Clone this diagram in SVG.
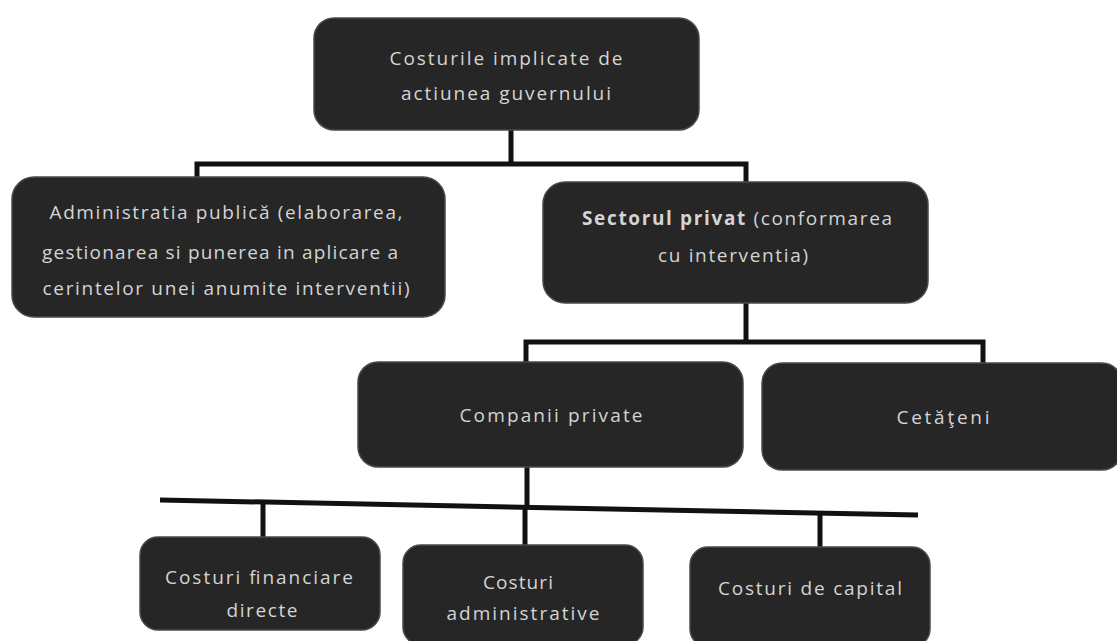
<svg xmlns="http://www.w3.org/2000/svg" width="1117" height="641" viewBox="0 0 1117 641">
<style>
.box{fill:#262626;stroke:#4a4a4a;stroke-width:1.5}
.t{font-family:"Open Sans","Liberation Sans",sans-serif;font-size:19px;fill:#d4d4d4;text-anchor:middle;dominant-baseline:central}
.b{font-weight:bold}
.c{fill:none;stroke:#111;stroke-width:5}
</style>
<rect width="1117" height="641" fill="#ffffff"/>
<g id="connectors">
<path class="c" d="M511 130 V164 M197 177 V164 H746 V182"/>
<path class="c" d="M746 303 V342 M526 362 V342 H983 V363"/>
<path class="c" d="M527 467 V507"/>
<path class="c" d="M160 500 L918 515"/>
<path class="c" d="M263 502 V537 M525 507 V545 M820 513 V547"/>
</g>
<g id="n-top">
<rect class="box" x="314" y="18" width="385" height="112" rx="20"/>
<text class="t" x="506" y="58" textLength="233" lengthAdjust="spacing">Costurile implicate de</text>
<text class="t" x="506" y="93" textLength="210" lengthAdjust="spacing">actiunea guvernului</text>
</g>
<g id="n-admin">
<rect class="box" x="12" y="177" width="433" height="140" rx="22"/>
<text class="t" x="226" y="212" textLength="353" lengthAdjust="spacing">Administratia publică (elaborarea,</text>
<text class="t" x="220" y="252" textLength="356" lengthAdjust="spacing">gestionarea si punerea in aplicare a</text>
<text class="t" x="226" y="288" textLength="367" lengthAdjust="spacing">cerintelor unei anumite interventii)</text>
</g>
<g id="n-privat">
<rect class="box" x="543" y="182" width="385" height="121" rx="22"/>
<text class="t" x="737" y="218" textLength="310" lengthAdjust="spacing"><tspan class="b">Sectorul privat</tspan> (conformarea</text>
<text class="t" x="733" y="255" textLength="150" lengthAdjust="spacing">cu interventia)</text>
</g>
<g id="n-companii">
<rect class="box" x="358" y="362" width="385" height="105" rx="20"/>
<text class="t" x="551" y="415" textLength="183" lengthAdjust="spacing">Companii private</text>
</g>
<g id="n-cetateni">
<rect class="box" x="762" y="363" width="360" height="107" rx="20"/>
<text class="t" x="943" y="417" textLength="93" lengthAdjust="spacing">Cetăţeni</text>
</g>
<g id="n-financiare">
<rect class="box" x="140" y="537" width="240" height="93" rx="18"/>
<text class="t" x="259" y="577" textLength="188" lengthAdjust="spacing">Costuri financiare</text>
<text class="t" x="262" y="610" textLength="71" lengthAdjust="spacing">directe</text>
</g>
<g id="n-administrative">
<rect class="box" x="403" y="545" width="240" height="100" rx="18"/>
<text class="t" x="518" y="582" textLength="70" lengthAdjust="spacing">Costuri</text>
<text class="t" x="523" y="613" textLength="153" lengthAdjust="spacing">administrative</text>
</g>
<g id="n-capital">
<rect class="box" x="690" y="547" width="240" height="100" rx="18"/>
<text class="t" x="810" y="588" textLength="184" lengthAdjust="spacing">Costuri de capital</text>
</g>
</svg>
